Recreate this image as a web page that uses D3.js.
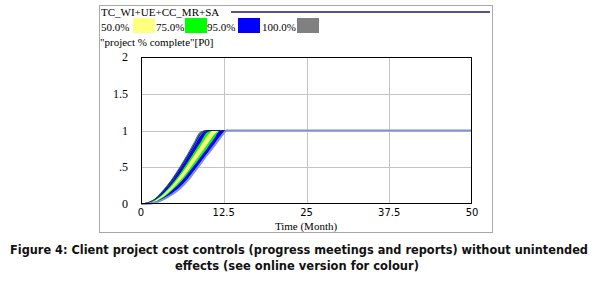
<!DOCTYPE html>
<html>
<head>
<meta charset="utf-8">
<script src="https://cdn.jsdelivr.net/npm/d3@7"></script>
<style>
  body { margin: 0; background: #fff; }
  svg { display: block; }
</style>
</head>
<body>
<svg id="chart" width="600" height="282"></svg>
<script>
// time in months
const months = [0, 1, 2, 3, 4, 5, 6, 7, 8, 9, 10, 11, 12, 13, 50];

// sensitivity envelope (project % complete, 1 = 100%)
const pMax  = [0, .018, .062, .150, .255, .380, .520, .670, .830, .980, 1, 1, 1, 1, 1];
const p975  = [0, .016, .056, .135, .235, .350, .485, .630, .780, .930, 1, 1, 1, 1, 1];
const p875  = [0, .013, .048, .112, .200, .305, .425, .560, .700, .840, .975, 1, 1, 1, 1];
const p75   = [0, .011, .042, .100, .182, .280, .395, .520, .655, .790, .925, 1, 1, 1, 1];
const p25   = [0, .007, .031, .078, .145, .230, .330, .440, .560, .685, .810, .940, 1, 1, 1];
const p125  = [0, .006, .027, .068, .130, .210, .300, .405, .520, .640, .760, .885, 1, 1, 1];
const p025  = [0, .005, .020, .052, .102, .165, .242, .340, .450, .565, .685, .805, .930, 1, 1];
const pMin  = [0, .004, .018, .046, .092, .150, .220, .315, .430, .550, .670, .785, .905, 1, 1];
const baseRun = [0, .017, .058, .140, .245, .365, .500, .645, .800, .955, 1, 1, 1, 1, 1];

const bandLabels = ["50.0%", "75.0%", "95.0%", "100.0%"];
const bandColors = ["#ffff80", "#00ff00", "#0000ff", "#808080"];
const xTicks = [0, 12.5, 25, 37.5, 50];
const xTickLabels = ["0", "12.5", "25", "37.5", "50"];
const yTicks = [0, 0.5, 1, 1.5, 2];
const yTickLabels = ["0", ".5", "1", "1.5", "2"];

const svg = d3.select("#chart");
const serif = "'Liberation Serif', 'Times New Roman', serif";
const sans = "'DejaVu Sans', Verdana, sans-serif";

// outer frame
svg.append("rect")
  .attr("x", 99.5).attr("y", 5.5)
  .attr("width", 393).attr("height", 227)
  .attr("fill", "none").attr("stroke", "#a8a8a8");

// legend
svg.append("text").attr("x", 101).attr("y", 16)
  .attr("font-family", serif).attr("font-size", 11)
  .text("TC_WI+UE+CC_MR+SA");
svg.append("line")
  .attr("x1", 231).attr("x2", 490).attr("y1", 12).attr("y2", 12)
  .attr("stroke", "#1a1a6e").attr("stroke-width", 1.5);

const legX = [101, 156, 207, 262];
const boxX = [133, 185, 238, 297];
bandLabels.forEach((lab, i) => {
  svg.append("text").attr("x", legX[i]).attr("y", 31)
    .attr("font-family", serif).attr("font-size", 11)
    .text(lab);
  svg.append("rect").attr("x", boxX[i]).attr("y", 18)
    .attr("width", 22).attr("height", 15)
    .attr("fill", bandColors[i]);
});
svg.append("text").attr("x", 100).attr("y", 46)
  .attr("font-family", serif).attr("font-size", 11)
  .text("\"project % complete\"[P0]");

// plot area
const x = d3.scaleLinear().domain([0, 50]).range([141, 472]);
const y = d3.scaleLinear().domain([0, 2]).range([204, 57]);

const grid = svg.append("g").attr("stroke", "#c4c4c4").attr("stroke-width", 1);
xTicks.slice(1, -1).forEach(t => {
  grid.append("line").attr("x1", Math.round(x(t)) + .5).attr("x2", Math.round(x(t)) + .5)
    .attr("y1", y(2)).attr("y2", y(0));
});
yTicks.slice(1, -1).forEach(t => {
  grid.append("line").attr("y1", Math.round(y(t)) + .5).attr("y2", Math.round(y(t)) + .5)
    .attr("x1", x(0)).attr("x2", x(50));
});

const pts = arr => arr.map((v, i) => ({ t: months[i], v }));
const band = (hi, lo) => months.map((t, i) => ({ t, hi: hi[i], lo: lo[i] }));
const area = d3.area().curve(d3.curveMonotoneX)
  .x(d => x(d.t)).y0(d => y(d.lo)).y1(d => y(d.hi));
const line = d3.line().curve(d3.curveMonotoneX)
  .x(d => x(d.t)).y(d => y(d.v));

const bands = [
  [pMax, pMin, bandColors[3]],
  [p975, p025, bandColors[2]],
  [p875, p125, bandColors[1]],
  [p75, p25, bandColors[0]]
];
bands.forEach(([hi, lo, c]) => {
  svg.append("path").datum(band(hi, lo))
    .attr("d", area).attr("fill", c);
});

svg.append("path").datum(pts(pMax))
  .attr("d", line).attr("fill", "none")
  .attr("stroke", "#2a7f8f").attr("stroke-width", 1);
svg.append("path").datum(pts(baseRun))
  .attr("d", line).attr("fill", "none")
  .attr("stroke", "#1a1a6e").attr("stroke-width", 1);
// slowest run edge, merges into the flat line at 1
svg.append("path").datum(pts(pMin))
  .attr("d", line).attr("fill", "none")
  .attr("stroke", "#8090dc").attr("stroke-width", 2);

// plot frame
svg.append("rect")
  .attr("x", 141.5).attr("y", 57.5)
  .attr("width", 330).attr("height", 146)
  .attr("fill", "none").attr("stroke", "#000");

// axis labels
svg.append("g").selectAll("text").data(yTicks).join("text")
  .attr("x", 128).attr("y", d => y(d) + 4)
  .attr("text-anchor", "end")
  .attr("font-family", serif).attr("font-size", 12)
  .text((d, i) => yTickLabels[i]);
svg.append("g").selectAll("text").data(xTicks).join("text")
  .attr("x", d => x(d)).attr("y", 216)
  .attr("text-anchor", "middle")
  .attr("font-family", sans).attr("font-size", 10)
  .text((d, i) => xTickLabels[i]);
svg.append("text").attr("x", 306).attr("y", 229.5)
  .attr("text-anchor", "middle")
  .attr("font-family", serif).attr("font-size", 11)
  .text("Time (Month)");

// caption
const cap = "'DejaVu Sans Condensed', 'DejaVu Sans', sans-serif";
svg.append("text").attr("x", 299).attr("y", 254)
  .attr("text-anchor", "middle")
  .attr("font-family", cap).attr("font-size", 12).attr("font-weight", "bold")
  .attr("textLength", 578).attr("lengthAdjust", "spacingAndGlyphs")
  .attr("fill", "#111")
  .text("Figure 4: Client project cost controls (progress meetings and reports) without unintended");
svg.append("text").attr("x", 297).attr("y", 270)
  .attr("text-anchor", "middle")
  .attr("font-family", cap).attr("font-size", 12).attr("font-weight", "bold")
  .attr("textLength", 244).attr("lengthAdjust", "spacingAndGlyphs")
  .attr("fill", "#111")
  .text("effects (see online version for colour)");
</script>
</body>
</html>
